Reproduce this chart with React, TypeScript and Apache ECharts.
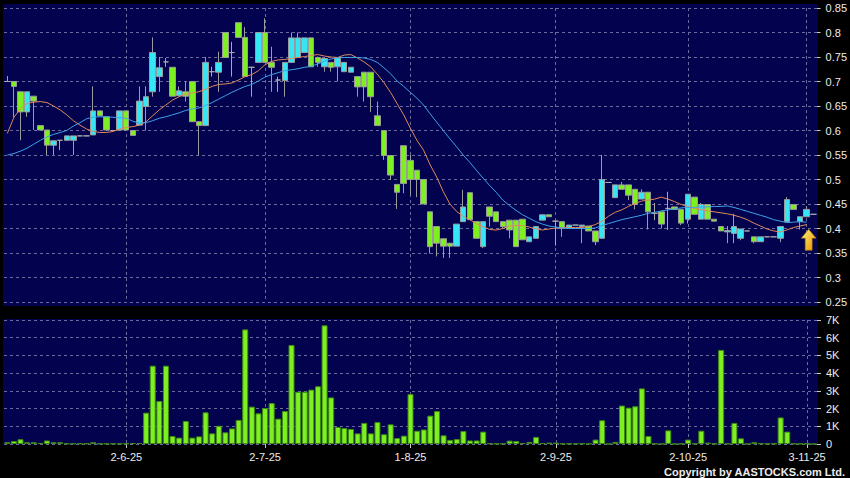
import React, { useEffect, useRef } from 'react';
import * as echarts from 'echarts';

const opens = [
  0.700, 0.700, 0.679, 0.638, 0.670, 0.610, 0.601, 0.570, 0.580, 0.580,
  0.580, 0.589, 0.589, 0.591, 0.640, 0.628, 0.600, 0.601, 0.640, 0.600,
  0.611, 0.649, 0.679, 0.710, 0.740, 0.729, 0.671, 0.679, 0.700, 0.618,
  0.610, 0.720, 0.719, 0.800, 0.759, 0.820, 0.790, 0.729, 0.739, 0.800,
  0.739, 0.703, 0.702, 0.739, 0.749, 0.759, 0.789, 0.749, 0.730, 0.739,
  0.730, 0.720, 0.719, 0.710, 0.719, 0.719, 0.630, 0.600, 0.549, 0.490,
  0.569, 0.539, 0.519, 0.500, 0.434, 0.404, 0.379, 0.370, 0.364, 0.414,
  0.473, 0.414, 0.363, 0.444, 0.434, 0.414, 0.417, 0.417, 0.419, 0.373,
  0.380, 0.417, 0.428, 0.415, 0.414, 0.400, 0.407, 0.404, 0.405, 0.395,
  0.380, 0.494, 0.463, 0.489, 0.489, 0.480, 0.460, 0.474, 0.431, 0.434,
  0.441, 0.444, 0.439, 0.419, 0.464, 0.419, 0.449, 0.419, 0.404, 0.393,
  0.390, 0.380, 0.395, 0.383, 0.373, 0.383, 0.383, 0.380, 0.414, 0.449,
  0.414, 0.424, 0.429,
];
const closes = [
  0.700, 0.690, 0.638, 0.679, 0.660, 0.601, 0.570, 0.579, 0.580, 0.589,
  0.589, 0.589, 0.589, 0.640, 0.630, 0.601, 0.600, 0.640, 0.601, 0.590,
  0.660, 0.669, 0.759, 0.728, 0.740, 0.670, 0.681, 0.670, 0.618, 0.610,
  0.739, 0.720, 0.739, 0.749, 0.759, 0.790, 0.710, 0.729, 0.800, 0.739,
  0.729, 0.703, 0.739, 0.789, 0.789, 0.789, 0.730, 0.739, 0.747, 0.729,
  0.749, 0.739, 0.729, 0.689, 0.689, 0.669, 0.610, 0.549, 0.509, 0.474,
  0.492, 0.500, 0.500, 0.450, 0.363, 0.370, 0.364, 0.364, 0.409, 0.444,
  0.418, 0.380, 0.414, 0.425, 0.414, 0.404, 0.397, 0.363, 0.377, 0.383,
  0.404, 0.428, 0.424, 0.415, 0.400, 0.407, 0.407, 0.407, 0.395, 0.373,
  0.500, 0.494, 0.489, 0.480, 0.468, 0.449, 0.474, 0.434, 0.431, 0.409,
  0.441, 0.439, 0.411, 0.470, 0.429, 0.449, 0.419, 0.415, 0.395, 0.396,
  0.404, 0.399, 0.395, 0.373, 0.383, 0.383, 0.383, 0.404, 0.459, 0.439,
  0.424, 0.439, 0.429,
];
const lows = [
  0.700, 0.627, 0.580, 0.628, 0.601, 0.601, 0.550, 0.550, 0.560, 0.580,
  0.550, 0.589, 0.589, 0.591, 0.630, 0.601, 0.600, 0.601, 0.601, 0.590,
  0.611, 0.600, 0.669, 0.679, 0.730, 0.670, 0.671, 0.659, 0.618, 0.549,
  0.610, 0.710, 0.679, 0.749, 0.710, 0.790, 0.710, 0.669, 0.739, 0.739,
  0.679, 0.679, 0.669, 0.739, 0.749, 0.759, 0.730, 0.730, 0.720, 0.720,
  0.700, 0.720, 0.719, 0.669, 0.659, 0.638, 0.610, 0.540, 0.499, 0.440,
  0.472, 0.468, 0.464, 0.450, 0.349, 0.343, 0.340, 0.340, 0.364, 0.414,
  0.418, 0.380, 0.360, 0.404, 0.414, 0.400, 0.380, 0.363, 0.377, 0.373,
  0.380, 0.417, 0.424, 0.365, 0.383, 0.400, 0.407, 0.370, 0.395, 0.366,
  0.380, 0.494, 0.463, 0.480, 0.458, 0.439, 0.460, 0.398, 0.417, 0.400,
  0.397, 0.439, 0.407, 0.410, 0.429, 0.419, 0.419, 0.415, 0.395, 0.370,
  0.370, 0.376, 0.395, 0.370, 0.373, 0.383, 0.383, 0.372, 0.414, 0.439,
  0.398, 0.424, 0.429,
];
const highs = [
  0.711, 0.700, 0.679, 0.679, 0.670, 0.610, 0.601, 0.580, 0.580, 0.589,
  0.589, 0.589, 0.589, 0.690, 0.640, 0.628, 0.600, 0.640, 0.640, 0.600,
  0.690, 0.690, 0.790, 0.750, 0.748, 0.729, 0.690, 0.700, 0.700, 0.618,
  0.750, 0.730, 0.761, 0.800, 0.781, 0.820, 0.811, 0.730, 0.800, 0.829,
  0.771, 0.710, 0.739, 0.800, 0.800, 0.789, 0.789, 0.751, 0.747, 0.739,
  0.749, 0.739, 0.729, 0.710, 0.719, 0.719, 0.659, 0.600, 0.549, 0.490,
  0.569, 0.550, 0.519, 0.500, 0.434, 0.404, 0.379, 0.370, 0.409, 0.479,
  0.473, 0.414, 0.414, 0.444, 0.434, 0.414, 0.417, 0.417, 0.419, 0.383,
  0.404, 0.428, 0.428, 0.415, 0.414, 0.407, 0.407, 0.407, 0.405, 0.395,
  0.550, 0.494, 0.489, 0.495, 0.489, 0.480, 0.480, 0.474, 0.452, 0.434,
  0.475, 0.444, 0.439, 0.470, 0.464, 0.452, 0.449, 0.419, 0.404, 0.405,
  0.430, 0.399, 0.395, 0.383, 0.383, 0.383, 0.383, 0.404, 0.464, 0.449,
  0.424, 0.446, 0.429,
];
// volume in thousands
const volumeK = [
  0.10, 0.17, 0.27, 0.10, 0.10, 0.06, 0.20, 0.10, 0.10, 0.03,
  0.03, 0.03, 0.03, 0.10, 0.02, 0.02, 0.02, 0.02, 0.03, 0.05,
  0.05, 1.77, 4.42, 2.43, 4.42, 0.45, 0.36, 1.30, 0.36, 0.43,
  1.79, 0.60, 1.03, 0.66, 0.88, 1.36, 6.47, 2.11, 1.73, 2.03,
  2.31, 1.43, 1.86, 5.59, 2.95, 2.95, 3.07, 3.26, 6.70, 2.63,
  0.96, 0.90, 0.85, 0.60, 1.19, 0.60, 1.24, 0.55, 1.11, 0.34,
  0.47, 2.82, 0.75, 0.82, 1.60, 1.86, 0.49, 0.23, 0.28, 0.73,
  0.20, 0.20, 0.70, 0.04, 0.02, 0.02, 0.19, 0.17, 0.05, 0.12,
  0.40, 0.05, 0.08, 0.08, 0.02, 0.02, 0.02, 0.03, 0.02, 0.25,
  1.34, 0, 0.12, 2.17, 2.05, 2.13, 3.14, 0.45, 0.02, 0,
  0.77, 0, 0.02, 0.25, 0.02, 0.75, 0.08, 0.02, 5.31, 0.02,
  1.19, 0.32, 0, 0.10, 0.03, 0.02, 0.02, 1.50, 0.70, 0.02,
  0.02, 0.02, 0,
];
const maShort = [
  0.594, 0.627, 0.645, 0.655, 0.658, 0.659, 0.657, 0.650, 0.642, 0.632,
  0.620, 0.611, 0.603, 0.598, 0.596, 0.596, 0.598, 0.603, 0.606, 0.608,
  0.611, 0.618, 0.630, 0.642, 0.652, 0.662, 0.669, 0.674, 0.677, 0.679,
  0.684, 0.690, 0.694, 0.695, 0.697, 0.703, 0.710, 0.714, 0.722, 0.734,
  0.741, 0.744, 0.745, 0.747, 0.749, 0.751, 0.753, 0.755, 0.752, 0.750,
  0.749, 0.754, 0.755, 0.748, 0.740, 0.730, 0.715, 0.698, 0.678, 0.655,
  0.632, 0.605, 0.580, 0.560, 0.530, 0.505, 0.475, 0.450, 0.435, 0.425,
  0.418, 0.410, 0.404, 0.398, 0.397, 0.400, 0.405, 0.406, 0.406, 0.403,
  0.399, 0.397, 0.399, 0.401, 0.402, 0.402, 0.402, 0.402, 0.404, 0.408,
  0.415, 0.425, 0.433, 0.438, 0.445, 0.451, 0.456, 0.458, 0.460, 0.464,
  0.460, 0.455, 0.449, 0.445, 0.441, 0.439, 0.436, 0.434, 0.432, 0.430,
  0.427, 0.423, 0.418, 0.411, 0.405, 0.399, 0.395, 0.393, 0.397, 0.402,
  0.405, 0.408,
];
const maLong = [
  0.550, 0.553, 0.558, 0.564, 0.572, 0.580, 0.587, 0.592, 0.596, 0.600,
  0.609, 0.616, 0.624, 0.627, 0.628, 0.628, 0.627, 0.626, 0.625, 0.619,
  0.615, 0.616, 0.620, 0.625, 0.628, 0.632, 0.636, 0.641, 0.644, 0.646,
  0.651, 0.657, 0.664, 0.671, 0.678, 0.684, 0.690, 0.694, 0.701, 0.709,
  0.714, 0.718, 0.722, 0.724, 0.726, 0.729, 0.731, 0.736, 0.741, 0.746,
  0.748, 0.749, 0.749, 0.749, 0.748, 0.745, 0.739, 0.728, 0.716, 0.701,
  0.690, 0.678, 0.666, 0.652, 0.634, 0.617, 0.600, 0.583, 0.567, 0.550,
  0.535, 0.519, 0.503, 0.488, 0.474, 0.458, 0.447, 0.437, 0.428, 0.421,
  0.414, 0.409, 0.405, 0.403, 0.401, 0.400, 0.400, 0.400, 0.400, 0.401,
  0.406, 0.410, 0.414, 0.418, 0.421, 0.424, 0.427, 0.431, 0.433, 0.436,
  0.438, 0.440, 0.442, 0.443, 0.443, 0.444, 0.444, 0.445, 0.445, 0.446,
  0.443, 0.439, 0.435, 0.431, 0.427, 0.423, 0.418, 0.415, 0.412, 0.413,
  0.414, 0.413,
];
const tickIndex = [18, 39, 61, 83, 103, 121];
const tickLabels = ['2-6-25', '2-7-25', '1-8-25', '2-9-25', '2-10-25', '3-11-25'];
const priceTicks = { min: 0.25, max: 0.85, interval: 0.05 };
const volumeTicks = { min: 0, max: 7, interval: 1 };
const arrowAt = { index: 121, price: 0.377 };

export default function App() {
  const ref = useRef<HTMLDivElement>(null);
  useEffect(() => {
    const chart = echarts.init(ref.current as HTMLDivElement, null, { renderer: 'svg' });
    const cats = opens.map((_, i) => String(i));
    const candles = opens.map((o, i) => [o, closes[i], lows[i], highs[i]]);
    const isTick = (i: number) => tickIndex.indexOf(i) >= 0;
    const gridColor = '#6a6a9c';
    const labelColor = '#ececec';
    const navy = '#02024e';
    const splitLine = {
      show: true,
      interval: (i: number) => isTick(i),
      alignWithLabel: true,
      lineStyle: { color: gridColor, type: [3, 3], width: 1 },
    };
    const option: any = {
      animation: false,
      backgroundColor: '#000000',
      textStyle: { fontFamily: 'Arial, "Liberation Sans", sans-serif' },
      graphic: [
        { type: 'rect', z: -10, silent: true, shape: { x: 3, y: 4, width: 815, height: 302 }, style: { fill: navy } },
        { type: 'rect', z: -10, silent: true, shape: { x: 3, y: 319, width: 815, height: 125 }, style: { fill: navy } },
        {
          type: 'text', x: 845, y: 472, silent: true,
          style: {
            text: 'Copyright by AASTOCKS.com Ltd.', fill: labelColor,
            font: 'bold 11px Arial, "Liberation Sans", sans-serif',
            textAlign: 'right', textVerticalAlign: 'middle',
          },
        },
      ],
      grid: [
        { left: 4, right: 33, top: 8, height: 294 },
        { left: 4, right: 33, top: 320, height: 124 },
      ],
      xAxis: [
        {
          type: 'category', gridIndex: 0, data: cats, boundaryGap: true,
          axisLine: { show: false }, axisTick: { show: false }, axisLabel: { show: false },
          splitLine,
        },
        {
          type: 'category', gridIndex: 1, data: cats, boundaryGap: true,
          axisLine: { show: false },
          axisTick: { show: true, interval: (i: number) => isTick(i), alignWithLabel: true, length: 4, lineStyle: { color: '#c8c8c8' } },
          axisLabel: {
            interval: (i: number) => isTick(i),
            formatter: (v: string) => {
              const k = tickIndex.indexOf(Number(v));
              return k >= 0 ? tickLabels[k] : '';
            },
            color: labelColor, fontSize: 11, margin: 7,
          },
          splitLine,
        },
      ],
      yAxis: [
        {
          type: 'value', gridIndex: 0, position: 'right',
          min: priceTicks.min, max: priceTicks.max, interval: priceTicks.interval,
          axisLine: { show: false },
          axisTick: { show: true, length: 4, lineStyle: { color: '#c8c8c8' } },
          axisLabel: { color: labelColor, fontSize: 11, margin: 9, formatter: (v: number) => String(Number(v.toFixed(2))) },
          splitLine: { show: true, lineStyle: { color: gridColor, type: [3, 3], width: 1 } },
        },
        {
          type: 'value', gridIndex: 1, position: 'right',
          min: volumeTicks.min, max: volumeTicks.max, interval: volumeTicks.interval,
          axisLine: { show: false },
          axisTick: { show: true, length: 4, lineStyle: { color: '#c8c8c8' } },
          axisLabel: { color: labelColor, fontSize: 11, margin: 9, formatter: (v: number) => (v === 0 ? '0' : `${Math.round(v)}K`) },
          splitLine: { show: true, lineStyle: { color: gridColor, type: [3, 3], width: 1 } },
        },
      ],
      series: [
        {
          type: 'candlestick', xAxisIndex: 0, yAxisIndex: 0, data: candles, barWidth: 6, z: 2,
          itemStyle: {
            color: '#36e6f4', color0: '#7ef022',
            borderColor: '#9c9c9c', borderColor0: '#9c9c9c', borderColorDoji: '#a8a8a8', borderWidth: 1,
          },
          markPoint: {
            silent: true,
            data: [{
              coord: [arrowAt.index, arrowAt.price],
              symbol: 'path://M7.5,0 L15,9 L11,9 L11,21 L4,21 L4,9 L0,9 Z',
              symbolSize: [15, 21],
              symbolOffset: [2, 0],
              itemStyle: {
                color: { type: 'linear', x: 0, y: 0, x2: 1, y2: 1, colorStops: [{ offset: 0, color: '#fff07a' }, { offset: 1, color: '#e89400' }] },
                borderColor: '#a86a00', borderWidth: 0.6,
              },
              label: { show: false },
            }],
          },
        },
        {
          type: 'line', xAxisIndex: 0, yAxisIndex: 0, data: maShort, showSymbol: false, z: 3,
          lineStyle: { color: '#e08a5c', width: 1 },
        },
        {
          type: 'line', xAxisIndex: 0, yAxisIndex: 0, data: maLong, showSymbol: false, z: 3,
          lineStyle: { color: '#3fa2e8', width: 1 },
        },
        {
          type: 'bar', xAxisIndex: 1, yAxisIndex: 1, data: volumeK, barWidth: 6,
          itemStyle: { color: '#7ef022', borderColor: '#3f8a14', borderWidth: 1 },
        },
      ],
    };
    chart.setOption(option);
    return () => chart.dispose();
  }, []);
  return (
    <div
      ref={ref}
      style={{ position: 'fixed', left: 0, top: 0, width: 850, height: 478, background: '#000' }}
    />
  );
}
